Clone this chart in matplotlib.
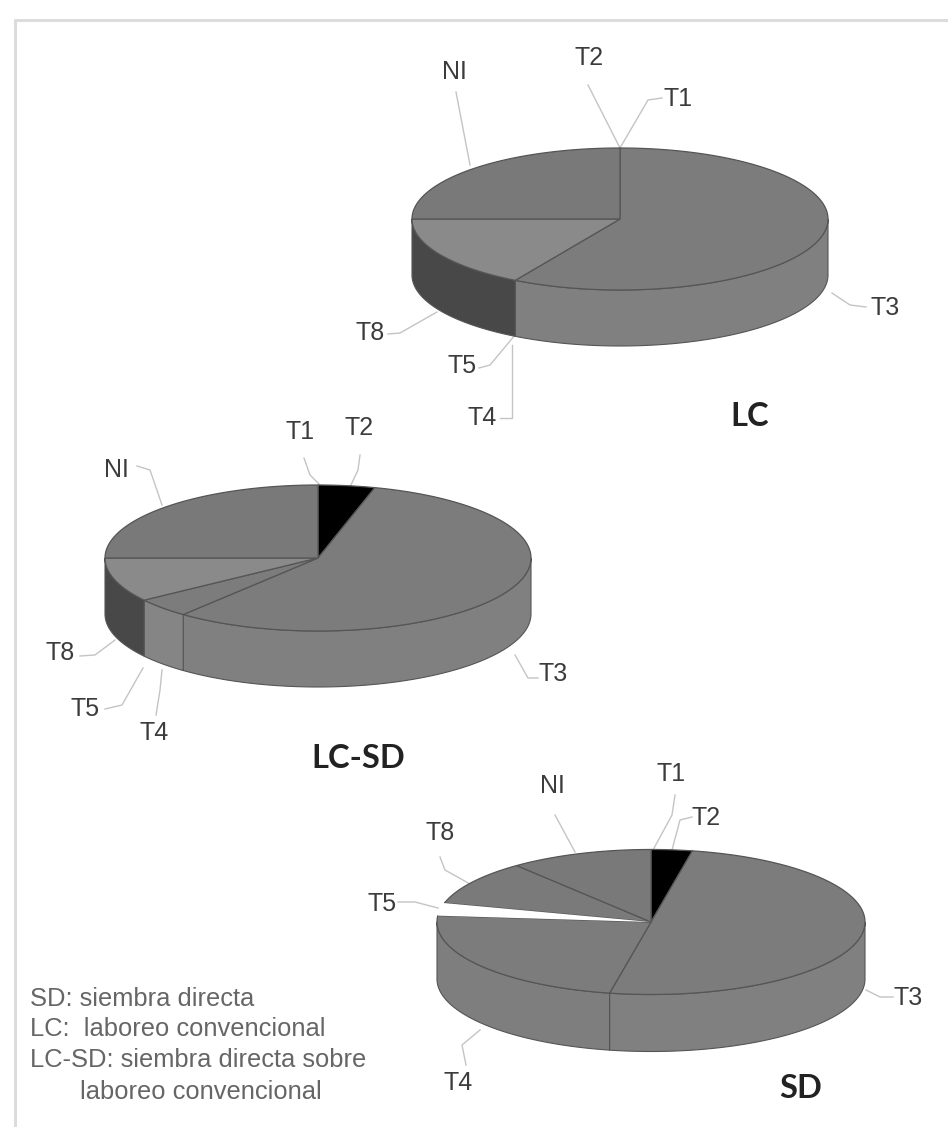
import numpy as np
import matplotlib
matplotlib.use("Agg")
import matplotlib.pyplot as plt
from matplotlib.patches import Polygon

# ---- data (share of each class, %) ----
classes = ["T1", "T2", "T3", "T4", "T5", "T8", "NI"]
lc_values = [0.0, 0.0, 58.4, 0.0, 0.0, 16.6, 25.0]
lcsd_values = [0.0, 4.3, 56.6, 4.3, 0.0, 9.8, 25.0]
sd_values = [0.0, 3.1, 50.0, 23.3, 2.8, 10.0, 10.8]
pie_titles = ["LC", "LC-SD", "SD"]
legend_lines = ["SD: siembra directa", "LC:  laboreo convencional",
                "LC-SD: siembra directa sobre", "laboreo convencional"]

# ---- styles ----
TOP = {"T1": "#000000", "T2": "#000000", "T3": "#7c7c7c", "T4": "#7c7c7c",
       "T5": "#ffffff", "T8": "#8a8a8a", "NI": "#797979"}
SIDE = {"T1": "#000000", "T2": "#000000", "T3": "#808080", "T4": "#858585",
        "T5": "#ffffff", "T8": "#484848", "NI": "#484848"}
TOP_SD = dict(TOP, T8="#7a7a7a")
SIDE_SD = dict(SIDE, T4="#7e7e7e")
EDGE = "#555555"
LEAD = "#c4c4c4"
LABEL = "#3c3c3c"
FONT = ["Liberation Sans", "DejaVu Sans"]

fig = plt.figure(figsize=(9.48, 11.27), dpi=100)
ax = fig.add_axes([0, 0, 1, 1])
ax.set_xlim(0, 948)
ax.set_ylim(1127, 0)
ax.axis("off")


def pie3d(values, cx, cy, rx, ry, depth, tops=TOP, sides=SIDE):
    start = 90.0
    spans = []
    for name, v in zip(classes, values):
        end = start - v * 3.6
        spans.append((name, start, end))
        start = end
    # side wall: visible only for the lower half of the ellipse (180..360)
    for name, a, b in spans:
        if a == b:
            continue
        for shift in (0, 360):
            hi, lo = a + shift, b + shift
            lo2, hi2 = max(lo, 180), min(hi, 360)
            if hi2 <= lo2:
                continue
            t = np.radians(np.linspace(lo2, hi2, 80))
            x = cx + rx * np.cos(t)
            y = cy - ry * np.sin(t)
            xy = np.r_[np.c_[x, y], np.c_[x, y + depth][::-1]]
            ax.add_patch(Polygon(xy, closed=True, fc=sides[name], ec=EDGE, lw=0.8, zorder=2))
    # top face (the white slice is drawn last, without an outline)
    for name, a, b in sorted(spans, key=lambda s: s[0] == "T5"):
        if a == b:
            continue
        t = np.radians(np.linspace(a, b, 120))
        x = cx + rx * np.cos(t)
        y = cy - ry * np.sin(t)
        xy = np.r_[[[cx, cy]], np.c_[x, y]]
        edge = "none" if name == "T5" else EDGE
        ax.add_patch(Polygon(xy, closed=True, fc=tops[name], ec=edge, lw=0.9, zorder=3))


pie3d(lc_values, 620, 219, 208, 71, 56)
pie3d(lcsd_values, 318, 558, 213, 73, 56)
pie3d(sd_values, 651, 922, 214, 72.5, 57, TOP_SD, SIDE_SD)

# ---- labels with leader lines: (text, x, y, leader points) ----
labels = [
    ("NI", 454, 72, [(456, 92), (470, 165)]),
    ("T2", 589, 58, [(588, 85), (620, 148)]),
    ("T1", 678, 99, [(662, 98), (648, 100), (620, 148)]),
    ("T3", 885, 308, [(832, 293), (850, 305), (866, 307)]),
    ("T8", 370, 333, [(388, 334), (400, 333), (437, 312)]),
    ("T5", 462, 366, [(479, 368), (490, 365), (515, 335)]),
    ("T4", 482, 418, [(500, 418), (512, 418), (512, 345)]),
    ("NI", 116, 470, [(137, 466), (150, 470), (162, 505)]),
    ("T1", 300, 432, [(304, 458), (310, 475), (320, 485)]),
    ("T2", 359, 428, [(360, 455), (358, 470), (350, 487)]),
    ("T3", 553, 674, [(515, 655), (528, 678), (538, 678)]),
    ("T8", 60, 653, [(80, 656), (95, 655), (115, 640)]),
    ("T5", 85, 709, [(105, 709), (122, 705), (143, 668)]),
    ("T4", 154, 733, [(156, 715), (160, 690), (162, 670)]),
    ("T1", 671, 774, [(675, 795), (672, 815), (653, 850)]),
    ("T2", 706, 818, [(692, 817), (680, 820), (672, 850)]),
    ("NI", 552, 786, [(555, 815), (575, 852)]),
    ("T8", 440, 833, [(440, 857), (445, 870), (470, 884)]),
    ("T5", 382, 904, [(398, 902), (415, 902), (438, 908)]),
    ("T3", 908, 998, [(866, 990), (880, 997), (893, 997)]),
    ("T4", 458, 1083, [(466, 1065), (462, 1045), (480, 1030)]),
]
for txt, x, y, pts in labels:
    ax.text(x, y, txt, ha="center", va="center", fontsize=18, color=LABEL, family=FONT, zorder=5)
    px, py = zip(*pts)
    ax.plot(px, py, color=LEAD, lw=1.0, zorder=1)

# ---- pie names ----
for txt, x, y in zip(pie_titles, (750, 358, 801), (416, 758, 1089)):
    ax.text(x, y, txt, ha="center", va="center", fontsize=23.5, color="#222222",
            family=["Lato", "DejaVu Sans"], fontweight="bold", zorder=5)

# ---- note ----
for txt, x, y in zip(legend_lines, (30, 30, 30, 80), (999, 1029, 1060, 1092)):
    ax.text(x, y, txt, ha="left", va="center", fontsize=18.4, color="#666666", family=FONT, zorder=5)

# ---- frame ----
ax.plot([948, 15, 15], [20, 20, 1127], color="#dcdcdc", lw=2.2, zorder=0)

fig.savefig("out.png", dpi=100, facecolor="white")
